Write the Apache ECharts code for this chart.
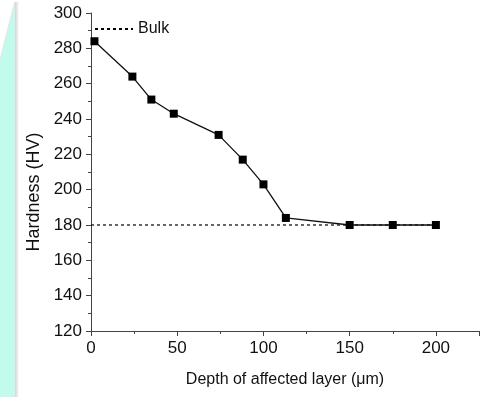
<!DOCTYPE html>
<html>
<head>
<meta charset="utf-8">
<script src="https://cdn.jsdelivr.net/npm/echarts@6/dist/echarts.min.js"></script>
<style>
  html, body { margin: 0; padding: 0; background: #fff; }
  #chart { width: 490px; height: 397px; }
</style>
</head>
<body>
<div id="chart"></div>
<script>
// Hardness profile through the affected layer
const depth = [2, 24, 35, 48, 74, 88, 100, 113, 150, 175, 200];      // µm
const hardness = [284, 264, 251, 243, 231, 217, 203, 184, 180, 180, 180]; // HV
// Bulk hardness reference
const bulkDepth = [0, 200];
const bulkHardness = [180, 180];

const FONT = 'Liberation Sans, Arial, sans-serif';
const chart = echarts.init(document.getElementById('chart'), null, { renderer: 'canvas' });

chart.setOption({
  backgroundColor: '#ffffff',
  animation: false,
  graphic: [
    // decorative side strip
    {
      type: 'polygon', silent: true, z: -10,
      shape: { points: [[0, 60], [15, 2], [15, 397], [0, 397]] },
      style: { fill: '#c0fbec' }
    },
    {
      type: 'line', silent: true, z: -9,
      shape: { x1: 0, y1: 60, x2: 15, y2: 2 },
      style: { stroke: '#e4e9e8', lineWidth: 1.5 }
    },
    {
      type: 'rect', silent: true, z: -9,
      shape: { x: 15, y: 2, width: 4, height: 395 },
      style: {
        fill: new echarts.graphic.LinearGradient(0, 0, 1, 0, [
          { offset: 0, color: '#d4d6d6' },
          { offset: 0.5, color: '#e6e7e7' },
          { offset: 1, color: '#ffffff' }
        ])
      }
    }
  ],
  legend: {
    left: 89, top: 16,
    itemWidth: 38, itemHeight: 10, itemGap: 2,
    data: ['Bulk'],
    itemStyle: { opacity: 0 },
    textStyle: { fontFamily: FONT, fontSize: 16, color: '#111' }
  },
  grid: { left: 91, right: 11, top: 13, bottom: 66 },
  xAxis: {
    type: 'value', min: 0, max: 225, interval: 50,
    name: 'Depth of affected layer (\u03bcm)',
    nameLocation: 'middle', nameGap: 41,
    nameTextStyle: { fontFamily: FONT, fontSize: 16, color: '#111' },
    axisLine: { show: true, lineStyle: { color: '#444', width: 1 } },
    axisTick: { show: true, inside: false, length: 5, lineStyle: { color: '#444' } },
    minorTick: { show: true, splitNumber: 2, length: 3, lineStyle: { color: '#444' } },
    axisLabel: { fontFamily: FONT, fontSize: 17, color: '#111', margin: 9, showMaxLabel: false },
    splitLine: { show: false }
  },
  yAxis: {
    type: 'value', min: 120, max: 300, interval: 20,
    name: 'Hardness (HV)',
    nameLocation: 'middle', nameGap: 46,
    nameTextStyle: { fontFamily: FONT, fontSize: 18, color: '#111', padding: [0, 40, 0, 0] },
    axisLine: { show: true, lineStyle: { color: '#444', width: 1 } },
    axisTick: { show: true, inside: false, length: 5, lineStyle: { color: '#444' } },
    minorTick: { show: true, splitNumber: 2, length: 3, lineStyle: { color: '#444' } },
    axisLabel: { fontFamily: FONT, fontSize: 17, color: '#111', margin: 9 },
    splitLine: { show: false }
  },
  series: [
    {
      name: 'Bulk', type: 'line',
      data: bulkDepth.map((d, i) => [d, bulkHardness[i]]),
      symbol: 'none',
      lineStyle: { color: '#000', width: 1.2, type: [3, 3] },
      itemStyle: { color: '#000' },
      z: 1
    },
    {
      name: 'Hardness', type: 'line',
      data: depth.map((d, i) => [d, hardness[i]]),
      symbol: 'rect', symbolSize: 8,
      lineStyle: { color: '#111', width: 1.3 },
      itemStyle: { color: '#000' },
      z: 2
    }
  ]
});
</script>
</body>
</html>
